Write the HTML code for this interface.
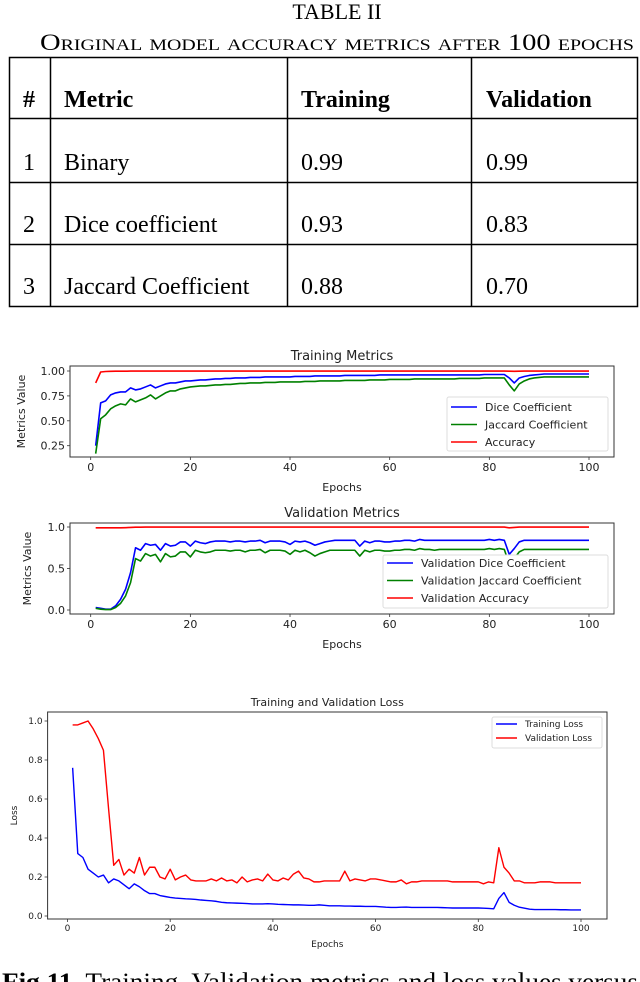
<!DOCTYPE html>
<html><head><meta charset="utf-8">
<style>
html,body{margin:0;padding:0;background:#fff;}
svg{display:block;}
.ser{font-family:"Liberation Serif",serif;fill:#000;}
.sans{font-family:"DejaVu Sans","Liberation Sans",sans-serif;fill:#222;}
</style></head>
<body>
<svg id="root" width="640" height="982" viewBox="0 0 640 982" xmlns="http://www.w3.org/2000/svg">
<g>
<text class="ser" x="337" y="19" font-size="22" text-anchor="middle">TABLE II</text>
<text class="ser" x="40" y="50" font-size="23" textLength="594" lengthAdjust="spacingAndGlyphs" style="font-variant:small-caps">Original model accuracy metrics after 100 epochs</text>
<g stroke="#000" stroke-width="1.5" fill="none">
<rect x="9.5" y="57.5" width="628" height="249"/>
<line x1="9.5" y1="118.5" x2="637.5" y2="118.5"/>
<line x1="9.5" y1="182.5" x2="637.5" y2="182.5"/>
<line x1="9.5" y1="244.5" x2="637.5" y2="244.5"/>
<line x1="50.5" y1="57.5" x2="50.5" y2="306.5"/>
<line x1="287.5" y1="57.5" x2="287.5" y2="306.5"/>
<line x1="471.5" y1="57.5" x2="471.5" y2="306.5"/>
</g>
<g class="ser" font-size="24">
<text x="23" y="107" font-weight="bold">#</text>
<text x="64" y="107" font-weight="bold">Metric</text>
<text x="301" y="107" font-weight="bold">Training</text>
<text x="486" y="107" font-weight="bold">Validation</text>
<text x="23" y="170">1</text>
<text x="64" y="170">Binary</text>
<text x="301" y="170">0.99</text>
<text x="486" y="170">0.99</text>
<text x="23" y="232">2</text>
<text x="64" y="232">Dice coefficient</text>
<text x="301" y="232">0.93</text>
<text x="486" y="232">0.83</text>
<text x="23" y="294">3</text>
<text x="64" y="294">Jaccard Coefficient</text>
<text x="301" y="294">0.88</text>
<text x="486" y="294">0.70</text>
</g>
</g>
<text class="ser" x="2" y="990" font-size="25" textLength="636" lengthAdjust="spacingAndGlyphs"><tspan font-weight="bold">Fig 11.</tspan> Training, Validation metrics and loss values versus</text>
</svg>
<script>
const trainDice=[0.25,0.68,0.70,0.76,0.78,0.79,0.79,0.83,0.81,0.82,0.84,0.86,0.83,0.85,0.87,0.88,0.88,0.89,0.90,0.90,0.905,0.91,0.91,0.915,0.92,0.92,0.925,0.925,0.93,0.93,0.93,0.935,0.935,0.935,0.94,0.94,0.94,0.94,0.94,0.94,0.945,0.945,0.945,0.945,0.95,0.95,0.95,0.95,0.95,0.95,0.955,0.955,0.955,0.955,0.955,0.955,0.955,0.96,0.96,0.96,0.96,0.96,0.96,0.96,0.96,0.96,0.96,0.96,0.96,0.96,0.96,0.96,0.96,0.96,0.96,0.96,0.96,0.96,0.965,0.965,0.965,0.965,0.965,0.93,0.88,0.93,0.945,0.955,0.96,0.965,0.97,0.97,0.97,0.97,0.97,0.97,0.97,0.97,0.97,0.97];
const trainJac=[0.17,0.52,0.56,0.62,0.65,0.67,0.66,0.72,0.69,0.71,0.73,0.76,0.72,0.75,0.78,0.80,0.80,0.82,0.83,0.84,0.845,0.85,0.85,0.855,0.86,0.86,0.865,0.865,0.87,0.875,0.875,0.88,0.88,0.88,0.885,0.885,0.885,0.89,0.89,0.89,0.89,0.89,0.895,0.895,0.895,0.9,0.9,0.9,0.9,0.9,0.905,0.905,0.905,0.905,0.905,0.91,0.91,0.91,0.91,0.915,0.915,0.915,0.915,0.915,0.92,0.92,0.92,0.92,0.92,0.92,0.92,0.92,0.92,0.925,0.925,0.925,0.925,0.925,0.93,0.93,0.93,0.93,0.93,0.86,0.80,0.87,0.90,0.92,0.93,0.935,0.94,0.94,0.94,0.94,0.94,0.94,0.94,0.94,0.94,0.94];
const trainAcc=[0.88,0.99,0.995,0.997,0.998,0.998,0.998,0.999,0.999,0.999,0.999,0.999,0.999,0.999,0.999,0.999,0.999,0.999,0.999,0.999,0.999,0.999,0.999,0.999,0.999,0.999,0.999,0.999,0.999,0.999,0.999,0.999,0.999,0.999,0.999,0.999,0.999,0.999,0.999,0.999,0.999,0.999,0.999,0.999,0.999,0.999,0.999,0.999,0.999,0.999,0.999,0.999,0.999,0.999,0.999,0.999,0.999,0.999,0.999,0.999,0.999,0.999,0.999,0.999,0.999,0.999,0.999,0.999,0.999,0.999,0.999,0.999,0.999,0.999,0.999,0.999,0.999,0.999,0.999,0.999,0.999,0.999,0.999,0.998,0.997,0.998,0.999,0.999,0.999,0.999,0.999,0.999,0.999,0.999,0.999,0.999,0.999,0.999,0.999,0.999];
const valDice=[0.03,0.02,0.01,0.01,0.05,0.13,0.25,0.45,0.75,0.72,0.80,0.78,0.79,0.72,0.80,0.77,0.78,0.82,0.82,0.77,0.83,0.81,0.80,0.82,0.83,0.83,0.83,0.82,0.83,0.83,0.82,0.83,0.83,0.84,0.81,0.83,0.83,0.83,0.82,0.79,0.83,0.82,0.83,0.81,0.78,0.80,0.82,0.83,0.84,0.84,0.84,0.84,0.84,0.77,0.83,0.81,0.83,0.83,0.82,0.82,0.83,0.83,0.84,0.84,0.83,0.85,0.84,0.84,0.84,0.84,0.84,0.84,0.84,0.84,0.84,0.84,0.84,0.84,0.84,0.85,0.84,0.85,0.84,0.67,0.74,0.82,0.84,0.84,0.84,0.84,0.84,0.84,0.84,0.84,0.84,0.84,0.84,0.84,0.84,0.84];
const valJac=[0.02,0.01,0.005,0.005,0.03,0.08,0.17,0.33,0.62,0.59,0.68,0.65,0.67,0.58,0.68,0.64,0.65,0.70,0.70,0.64,0.72,0.70,0.69,0.70,0.72,0.72,0.72,0.71,0.72,0.72,0.70,0.72,0.72,0.73,0.69,0.72,0.72,0.72,0.71,0.67,0.72,0.70,0.72,0.69,0.65,0.68,0.70,0.72,0.72,0.72,0.72,0.72,0.72,0.65,0.72,0.70,0.72,0.72,0.71,0.71,0.72,0.72,0.73,0.73,0.72,0.74,0.73,0.73,0.72,0.73,0.73,0.73,0.73,0.73,0.73,0.73,0.73,0.73,0.73,0.74,0.73,0.74,0.73,0.55,0.62,0.70,0.73,0.73,0.73,0.73,0.73,0.73,0.73,0.73,0.73,0.73,0.73,0.73,0.73,0.73];
const valAcc=[0.99,0.99,0.99,0.99,0.99,0.99,0.992,0.995,0.998,0.998,0.999,0.999,0.999,0.999,0.999,0.999,0.999,0.999,0.999,0.999,0.999,0.999,0.999,0.999,0.999,0.999,0.999,0.999,0.999,0.999,0.999,0.999,0.999,0.999,0.999,0.999,0.999,0.999,0.999,0.999,0.999,0.999,0.999,0.999,0.999,0.999,0.999,0.999,0.999,0.999,0.999,0.999,0.999,0.999,0.999,0.999,0.999,0.999,0.999,0.999,0.999,0.999,0.999,0.999,0.999,0.999,0.999,0.999,0.999,0.999,0.999,0.999,0.999,0.999,0.999,0.999,0.999,0.999,0.999,0.999,0.999,0.999,0.999,0.99,0.995,0.999,0.999,0.999,0.999,0.999,0.999,0.999,0.999,0.999,0.999,0.999,0.999,0.999,0.999,0.999];
const trainLoss=[0.76,0.32,0.30,0.24,0.22,0.20,0.21,0.17,0.19,0.18,0.16,0.14,0.165,0.15,0.13,0.115,0.115,0.105,0.10,0.095,0.092,0.09,0.088,0.087,0.085,0.082,0.08,0.078,0.075,0.07,0.068,0.067,0.066,0.065,0.064,0.062,0.062,0.062,0.063,0.062,0.06,0.059,0.058,0.057,0.057,0.056,0.055,0.055,0.057,0.055,0.052,0.052,0.052,0.051,0.051,0.05,0.05,0.049,0.049,0.049,0.047,0.045,0.044,0.044,0.045,0.046,0.044,0.044,0.044,0.044,0.044,0.044,0.043,0.042,0.041,0.041,0.041,0.041,0.041,0.041,0.04,0.039,0.037,0.09,0.12,0.07,0.055,0.045,0.04,0.035,0.033,0.033,0.033,0.033,0.033,0.032,0.032,0.031,0.031,0.031];
const valLoss=[0.98,0.98,0.99,1.0,0.96,0.91,0.85,0.55,0.26,0.29,0.21,0.24,0.22,0.30,0.21,0.25,0.25,0.20,0.19,0.24,0.185,0.20,0.21,0.185,0.18,0.18,0.18,0.19,0.18,0.195,0.18,0.185,0.17,0.20,0.175,0.185,0.19,0.18,0.215,0.185,0.18,0.195,0.185,0.215,0.23,0.195,0.19,0.175,0.175,0.18,0.18,0.18,0.18,0.23,0.18,0.19,0.185,0.18,0.19,0.19,0.185,0.18,0.175,0.175,0.185,0.165,0.175,0.175,0.18,0.18,0.18,0.18,0.18,0.18,0.175,0.175,0.175,0.175,0.175,0.175,0.165,0.175,0.17,0.35,0.25,0.22,0.18,0.18,0.17,0.17,0.17,0.175,0.175,0.175,0.17,0.17,0.17,0.17,0.17,0.17];
const xTicks=[0,20,40,60,80,100];
const yTicksTrain=[0.25,0.5,0.75,1.0];
const yTickLabelsTrain=["0.25","0.50","0.75","1.00"];
const yTicksVal=[0,0.5,1.0];
const yTickLabelsVal=["0.0","0.5","1.0"];
const yTicksLoss=[0,0.2,0.4,0.6,0.8,1.0];
const yTickLabelsLoss=["0.0","0.2","0.4","0.6","0.8","1.0"];

const NS="http://www.w3.org/2000/svg";
const root=document.getElementById('root');
function mk(tag,attrs,parent){const e=document.createElementNS(NS,tag);for(const k in attrs)e.setAttribute(k,attrs[k]);(parent||root).appendChild(e);return e;}
function txt(s,attrs,parent){const e=mk('text',attrs,parent);e.textContent=s;return e;}

function chart(cfg){
  const g=mk('g',{});
  
  
  const xs=v=>cfg.x0+(v-0)*(cfg.x100-cfg.x0)/100;
  const ys=v=>cfg.yA+(v-cfg.vA)*(cfg.yB-cfg.yA)/(cfg.vB-cfg.vA);
  const fs=cfg.fs;
  const t=txt(cfg.title,{x:(cfg.L+cfg.R)/2,y:cfg.titleY,'font-size':fs+2,'text-anchor':'middle','class':'sans'},g);
  
  
  xTicks.forEach(v=>{
    mk('line',{x1:xs(v),x2:xs(v),y1:cfg.B,y2:cfg.B+3,stroke:'#333','stroke-width':0.8},g);
    const l=txt(String(v),{x:xs(v),y:cfg.B+fs+3,'font-size':fs,'text-anchor':'middle','class':'sans'},g);
    
    
  });
  cfg.yt.forEach((v,i)=>{
    mk('line',{x1:cfg.L-3,x2:cfg.L,y1:ys(v),y2:ys(v),stroke:'#333','stroke-width':0.8},g);
    const l=txt(cfg.ytl[i],{x:cfg.L-5,y:ys(v)+fs*0.36,'font-size':fs,'text-anchor':'end','class':'sans'},g);
    
    
  });
  const xl=txt('Epochs',{x:(cfg.L+cfg.R)/2,y:cfg.xlabY,'font-size':fs,'text-anchor':'middle','class':'sans'},g);
  
  
  const yl=txt(cfg.ylab,{x:0,y:0,'font-size':fs,'text-anchor':'middle','class':'sans',transform:`translate(${cfg.ylabX},${(cfg.T+cfg.B)/2}) rotate(-90)`},g);
  
  
  cfg.series.forEach(s=>{
    const d=s.data.map((v,i)=>(i?'L':'M')+xs(i+1).toFixed(2)+','+ys(v).toFixed(2)).join('');
    const p=mk('path',{d:d,fill:'none',stroke:s.color,'stroke-width':cfg.lw,'stroke-linejoin':'round'},g);
    
    
  });
  mk('rect',{x:cfg.L,y:cfg.T,width:cfg.R-cfg.L,height:cfg.B-cfg.T,fill:'none',stroke:'#333','stroke-width':1},g);
  const lg=mk('g',{},g);
  
  
  const lb=cfg.leg;
  mk('rect',{x:lb.x,y:lb.y,width:lb.w,height:lb.h,fill:'#fff',stroke:'#ddd','stroke-width':1,rx:2},lg);
  cfg.series.forEach((s,i)=>{
    const yy=lb.y+lb.pad+i*lb.step;
    mk('line',{x1:lb.x+4,x2:lb.x+4+lb.len,y1:yy,y2:yy,stroke:s.color,'stroke-width':cfg.lw},lg);
    const e=txt(s.label,{x:lb.x+lb.len+12,y:yy+fs*0.36,'font-size':fs,'class':'sans'},lg);
    
    
  });
}

chart({name:'training-metrics-chart',title:'Training Metrics',titleY:360,L:70,R:614,T:366,B:457,x0:90.7,x100:589,yA:371,vA:1.0,yB:445.7,vB:0.25,
  yt:yTicksTrain,ytl:yTickLabelsTrain,fs:11,lw:1.6,xlabY:491,ylab:'Metrics Value',ylabX:25,
  leg:{x:447,y:397,w:161,h:54,pad:10,step:17.5,len:26},
  series:[{id:'train-dice-line',data:trainDice,color:'#0000ff',label:'Dice Coefficient'},
          {id:'train-jaccard-line',data:trainJac,color:'#008000',label:'Jaccard Coefficient'},
          {id:'train-accuracy-line',data:trainAcc,color:'#ff0000',label:'Accuracy'}]});
chart({name:'validation-metrics-chart',title:'Validation Metrics',titleY:517,L:70,R:614,T:523,B:614,x0:90.7,x100:589,yA:527,vA:1.0,yB:610,vB:0.0,
  yt:yTicksVal,ytl:yTickLabelsVal,fs:11,lw:1.6,xlabY:648,ylab:'Metrics Value',ylabX:31,
  leg:{x:383,y:555,w:225,h:53,pad:8,step:17.5,len:26},
  series:[{id:'val-dice-line',data:valDice,color:'#0000ff',label:'Validation Dice Coefficient'},
          {id:'val-jaccard-line',data:valJac,color:'#008000',label:'Validation Jaccard Coefficient'},
          {id:'val-accuracy-line',data:valAcc,color:'#ff0000',label:'Validation Accuracy'}]});
chart({name:'loss-chart',title:'Training and Validation Loss',titleY:706,L:47.6,R:607,T:712,B:919,x0:67.5,x100:581,yA:721,vA:1.0,yB:916,vB:0.0,
  yt:yTicksLoss,ytl:yTickLabelsLoss,fs:9,lw:1.4,xlabY:947,ylab:'Loss',ylabX:17,
  leg:{x:492,y:717,w:110,h:31,pad:7,step:14,len:21},
  series:[{id:'training-loss-line',data:trainLoss,color:'#0000ff',label:'Training Loss'},
          {id:'validation-loss-line',data:valLoss,color:'#ff0000',label:'Validation Loss'}]});
</script>
</body></html>
